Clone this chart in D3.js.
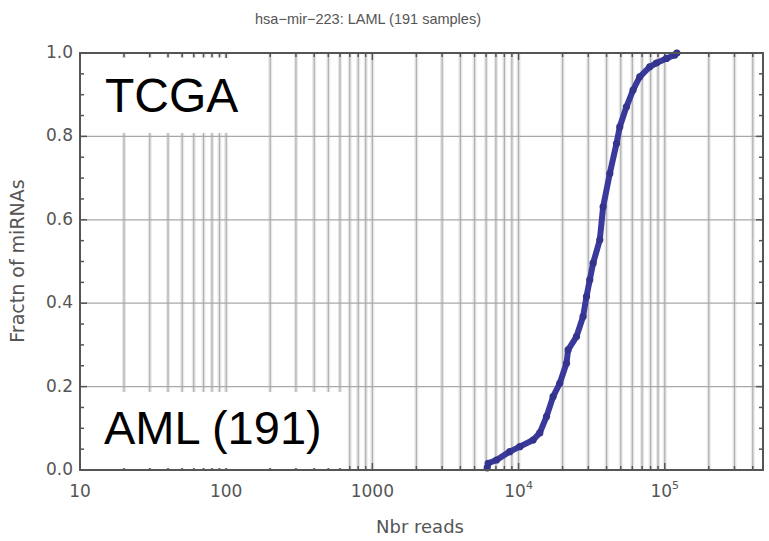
<!DOCTYPE html>
<html lang="en">
  <head>
    <meta charset="utf-8">
    <title>hsa-mir-223 LAML</title>
    <script src="https://d3js.org/d3.v7.js"></script>
    <style>
      body { margin: 0; background: #fff; }
      text { font-family: "DejaVu Sans", sans-serif; }
    </style>
  </head>

  <body>

  <script>

// data: reads vs cumulative fraction of samples
  var reads = [6100, 6200, 7065, 8710, 10200, 12570, 13970, 15530, 17230, 19140,
               21270, 21820, 24900, 27630, 29150, 30700, 32360, 35960, 37880, 42080,
               46770, 49250, 54700, 60700, 67450, 78900, 87700, 102700, 117000, 121000];
  var fractions = [0.005, 0.016, 0.024, 0.044, 0.056, 0.072, 0.089, 0.128, 0.176, 0.208,
                   0.256, 0.288, 0.32, 0.368, 0.416, 0.456, 0.496, 0.552, 0.631, 0.711,
                   0.783, 0.823, 0.871, 0.911, 0.943, 0.967, 0.976, 0.987, 0.995, 1.0];

  var yTicks = [0, 0.2, 0.4, 0.6, 0.8, 1.0];
  var xTicks = [10, 100, 1000, 10000, 100000];
  var xTickLabels = ["10", "100", "1000", "10|4", "10|5"];

  var title = "hsa\u2212mir\u2212223: LAML (191 samples)";
  var xLabel = "Nbr reads";
  var yLabel = "Fractn of miRNAs";
  var boxTop = "TCGA";
  var boxBottom = "AML (191)";

  var w = 769, h = 541;
  // plot frame (note: "top" is reserved on window, so use pTop etc.)
  var pLeft = 80, pRight = 763, pTop = 53, pBottom = 470;

  var svg = d3.select("body")
    .append("svg")
      .attr("width", w)
      .attr("height", h);

  var x = d3.scaleLog()
      .domain([10, 470000])
      .range([pLeft, pRight]);

  var y = d3.scaleLinear()
      .domain([0, 1])
      .range([pBottom, pTop]);

  // minor positions on the log axis
  var minor = [];
  xTicks.forEach(function(d) {
    for (var k = 1; k <= 9; k++) {
      var v = d * k;
      if (v > 10 && v < 470000) minor.push(v);
    }
  });

  var grid = svg.append("g");

  grid.selectAll(".band")
    .data(minor)
    .enter().append("line")
      .attr("x1", d => x(d)).attr("x2", d => x(d))
      .attr("y1", pTop).attr("y2", pBottom)
      .attr("stroke", "#e8e8e8")
      .attr("stroke-width", 4);

  grid.selectAll(".vline")
    .data(minor)
    .enter().append("line")
      .attr("x1", d => x(d)).attr("x2", d => x(d))
      .attr("y1", pTop).attr("y2", pBottom)
      .attr("stroke", "#b0b0b0")
      .attr("stroke-width", 1.2);

  grid.selectAll(".hline")
    .data([0.2, 0.4, 0.6, 0.8])
    .enter().append("line")
      .attr("x1", pLeft).attr("x2", pRight)
      .attr("y1", d => y(d)).attr("y2", d => y(d))
      .attr("stroke", "#a8a8a8")
      .attr("stroke-width", 1.2);

  // ticks on frame
  var yMinor = d3.range(0, 1.0001, 0.05);
  var ticks = svg.append("g").attr("stroke", "#555").attr("stroke-width", 1.5);

  ticks.selectAll(".yl")
    .data(yMinor)
    .enter().append("line")
      .attr("x1", pLeft).attr("x2", (d, i) => pLeft + (i % 4 == 0 ? 7 : 4))
      .attr("y1", d => y(d)).attr("y2", d => y(d));

  ticks.selectAll(".yr")
    .data(yMinor)
    .enter().append("line")
      .attr("x1", pRight).attr("x2", (d, i) => pRight - (i % 4 == 0 ? 7 : 4))
      .attr("y1", d => y(d)).attr("y2", d => y(d));

  ticks.selectAll(".xb")
    .data(minor)
    .enter().append("line")
      .attr("x1", d => x(d)).attr("x2", d => x(d))
      .attr("y1", pBottom).attr("y2", d => pBottom - (xTicks.indexOf(d) >= 0 ? 7 : 4));

  ticks.selectAll(".xt")
    .data(minor)
    .enter().append("line")
      .attr("x1", d => x(d)).attr("x2", d => x(d))
      .attr("y1", pTop).attr("y2", d => pTop + (xTicks.indexOf(d) >= 0 ? 7 : 4));

  // the ECDF curve
  var pts = reads.map((d, i) => [d, fractions[i]]);

  svg.append("path")
    .datum(pts)
    .attr("d", d3.line().x(d => x(d[0])).y(d => y(d[1])))
    .attr("fill", "none")
    .attr("stroke", "#3a3a9c")
    .attr("stroke-width", 6)
    .attr("stroke-linejoin", "round")
    .attr("stroke-linecap", "round");

  svg.selectAll(".dot")
    .data(pts)
    .enter().append("circle")
      .attr("cx", d => x(d[0]))
      .attr("cy", d => y(d[1]))
      .attr("r", 3.6)
      .attr("fill", "#34348f");

  // labelled white boxes
  svg.append("rect")
    .attr("x", 93).attr("y", 58).attr("width", 167).attr("height", 75)
    .attr("fill", "#fff");
  svg.append("text")
    .attr("x", 105).attr("y", 112)
    .style("font-family", "'Liberation Sans', Arial, sans-serif")
    .style("font-size", "48px")
    .text(boxTop);

  svg.append("rect")
    .attr("x", 93).attr("y", 392).attr("width", 249).attr("height", 76)
    .attr("fill", "#fff");
  svg.append("text")
    .attr("x", 104).attr("y", 444)
    .style("font-family", "'Liberation Sans', Arial, sans-serif")
    .style("font-size", "47px")
    .text(boxBottom);

  // frame
  svg.append("rect")
    .attr("x", pLeft).attr("y", pTop)
    .attr("width", pRight - pLeft).attr("height", pBottom - pTop)
    .attr("fill", "none")
    .attr("stroke", "#555")
    .attr("stroke-width", 2);

  // y tick labels
  svg.selectAll(".ylab")
    .data(yTicks)
    .enter().append("text")
      .attr("x", 73)
      .attr("y", d => y(d) + 5)
      .attr("text-anchor", "end")
      .attr("fill", "#555")
      .style("font-size", "17px")
      .text(d => d.toFixed(1));

  // x tick labels
  var xl = svg.selectAll(".xlab")
    .data(xTicks)
    .enter().append("text")
      .attr("x", d => x(d))
      .attr("y", 497)
      .attr("text-anchor", "middle")
      .attr("fill", "#555")
      .style("font-size", "17px");

  xl.each(function(d, i) {
    var parts = xTickLabels[i].split("|");
    var t = d3.select(this);
    t.append("tspan").text(parts[0]);
    if (parts[1]) {
      t.append("tspan")
        .attr("dy", -8)
        .style("font-size", "11px")
        .text(parts[1]);
    }
  });

  // title and axis titles
  svg.append("text")
    .attr("x", 368).attr("y", 24)
    .attr("text-anchor", "middle")
    .attr("fill", "#555")
    .style("font-family", "'Liberation Sans', Arial, sans-serif")
    .style("font-size", "14.5px")
    .text(title);

  svg.append("text")
    .attr("x", 420).attr("y", 533)
    .attr("text-anchor", "middle")
    .attr("fill", "#555")
    .style("font-size", "18px")
    .text(xLabel);

  svg.append("text")
    .attr("transform", "translate(24,261) rotate(-90)")
    .attr("text-anchor", "middle")
    .attr("fill", "#555")
    .style("font-size", "19px")
    .text(yLabel);

    </script>

  </body>

</html>
